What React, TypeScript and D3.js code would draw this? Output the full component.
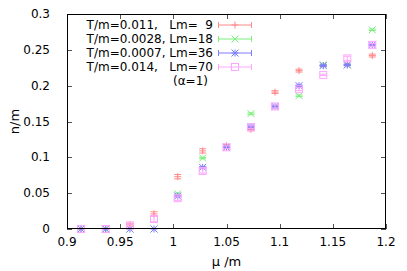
import React from 'react'
import * as d3 from 'd3'

// chemical potential (x) shared by all runs
const muValues = [0.9132, 0.9364, 0.9592, 0.9818, 1.0041, 1.0276, 1.05, 1.073, 1.0956, 1.1182, 1.141, 1.1636, 1.1871]

const seriesLabels = ['T/m=0.011,   Lm=  9', 'T/m=0.0028, Lm=18', 'T/m=0.0007, Lm=36', 'T/m=0.014,   Lm=70']
const seriesColors = ['#ff8a8a', '#7aee7a', '#7c7cff', '#ffa6ff']
const seriesMarkers = ['plus', 'cross', 'star', 'square']

const nLm9 = [0, 0, 0.006, 0.021, 0.073, 0.109, 0.116, 0.139, 0.191, 0.221, 0.228, 0.229, 0.242]
const nLm18 = [0, 0, 0, 0, 0.049, 0.099, 0.114, 0.161, 0.171, 0.186, 0.229, 0.229, 0.278]
const nLm36 = [0, 0, 0, 0, 0.046, 0.086, 0.114, 0.143, 0.171, 0.2, 0.228, 0.229, 0.257]
const nLm70 = [0, 0, 0.005, 0.014, 0.043, 0.081, 0.114, 0.142, 0.171, 0.195, 0.215, 0.238, 0.257]
const errLm9 = [0, 0, 0.002, 0.003, 0.003, 0.003, 0.002, 0.002, 0.002, 0.002, 0.001, 0.001, 0.002]
const errLm70 = [0, 0, 0.002, 0.004, 0.003, 0.003, 0.002, 0.002, 0.002, 0.002, 0.001, 0.003, 0.002]
const errSmall = [0, 0, 0, 0, 0.001, 0.001, 0.001, 0.001, 0.001, 0.001, 0.001, 0.001, 0.001]

const seriesValues = [nLm9, nLm18, nLm36, nLm70]
const seriesErrors = [errLm9, errSmall, errSmall, errLm70]

const xTicks = [0.9, 0.95, 1, 1.05, 1.1, 1.15, 1.2]
const yTicks = [0, 0.05, 0.1, 0.15, 0.2, 0.25, 0.3]
const noteText = '(α=1)'

const W = 407
const H = 271
const margin = { top: 14, right: 21, bottom: 42, left: 67 }
const font = 'DejaVu Sans, sans-serif'

const Marker = ({ kind, x, y, color }: { kind: string; x: number; y: number; color: string }) => {
  const s = 3.5
  const sw = 1
  if (kind === 'plus')
    return <path d={`M${x - s},${y}H${x + s}M${x},${y - s}V${y + s}`} stroke={color} strokeWidth={sw} fill="none" />
  if (kind === 'cross')
    return <path d={`M${x - s},${y - s}L${x + s},${y + s}M${x - s},${y + s}L${x + s},${y - s}`} stroke={color} strokeWidth={sw} fill="none" />
  if (kind === 'star')
    return (
      <path
        d={`M${x - s},${y - s}L${x + s},${y + s}M${x - s},${y + s}L${x + s},${y - s}M${x - s},${y}H${x + s}M${x},${y - s}V${y + s}`}
        stroke={color}
        strokeWidth={sw}
        fill="none"
      />
    )
  return <rect x={x - s} y={y - s} width={2 * s} height={2 * s} stroke={color} strokeWidth={sw} fill="none" />
}

const App = () => {
  const xScale = d3.scaleLinear().domain([0.9, 1.2]).range([margin.left, W - margin.right])
  const yScale = d3.scaleLinear().domain([0, 0.3]).range([H - margin.bottom, margin.top])
  const x0 = xScale.range()[0]
  const x1 = xScale.range()[1]
  const y0 = yScale.range()[0]
  const y1 = yScale.range()[1]
  const tickLen = 5
  const cap = 3.5

  return (
    <svg width={W} height={H} style={{ position: 'absolute', left: 0, top: 0, background: '#fff' }} fontFamily={font}>
      {/* ticks, mirrored on all four sides */}
      <g stroke="#555" strokeWidth={1}>
        {xTicks.map((t) => {
          const px = Math.round(xScale(t)) + 0.5
          return (
            <g key={'xt' + t}>
              <line x1={px} x2={px} y1={y0} y2={y0 - tickLen} />
              <line x1={px} x2={px} y1={y1} y2={y1 + tickLen} />
            </g>
          )
        })}
        {yTicks.map((t) => {
          const py = Math.round(yScale(t)) + 0.5
          return (
            <g key={'yt' + t}>
              <line x1={x0} x2={x0 + tickLen} y1={py} y2={py} />
              <line x1={x1} x2={x1 - tickLen} y1={py} y2={py} />
            </g>
          )
        })}
      </g>
      <g fontSize={12} fill="#000">
        {xTicks.map((t) => (
          <text key={'xl' + t} x={xScale(t)} y={y0 + 17} textAnchor="middle">
            {d3.format('')(t)}
          </text>
        ))}
        {yTicks.map((t) => (
          <text key={'yl' + t} x={x0 - 17} y={yScale(t) + 4} textAnchor="end">
            {d3.format('')(t)}
          </text>
        ))}
      </g>
      <text x={(x0 + x1) / 2} y={H - 5} textAnchor="middle" fontSize={13}>
        μ /m
      </text>
      <text transform={`translate(19,${(y0 + y1) / 2}) rotate(-90)`} textAnchor="middle" fontSize={13}>
        n/m
      </text>

      {/* data with y error bars */}
      {seriesValues.map((vals, si) => (
        <g key={'s' + si}>
          {vals.map((v, i) => {
            const px = xScale(muValues[i])
            const e = seriesErrors[si][i]
            const ya = yScale(v - e)
            const yb = yScale(v + e)
            return (
              <g key={i}>
                {e > 0 && (
                  <path
                    d={`M${px},${ya}V${yb}M${px - cap},${ya}H${px + cap}M${px - cap},${yb}H${px + cap}`}
                    stroke={seriesColors[si]}
                    strokeWidth={1}
                    fill="none"
                  />
                )}
                <Marker kind={seriesMarkers[si]} x={px} y={yScale(v)} color={seriesColors[si]} />
              </g>
            )
          })}
        </g>
      ))}

      {/* key */}
      {seriesLabels.map((lab, i) => {
        const ly = 25 + i * 14
        return (
          <g key={'k' + i}>
            <text x={213} y={ly + 4} textAnchor="end" fontSize={12} style={{ whiteSpace: 'pre' }}>
              {lab}
            </text>
            <path
              d={`M218,${ly}H252M218.5,${ly - 3}V${ly + 3}M251.5,${ly - 3}V${ly + 3}`}
              stroke={seriesColors[i]}
              strokeWidth={1}
              fill="none"
            />
            <Marker kind={seriesMarkers[i]} x={235} y={ly} color={seriesColors[i]} />
          </g>
        )
      })}
      <text x={208} y={25 + 4 * 14 + 4} textAnchor="end" fontSize={12}>
        {noteText}
      </text>

      <rect x={x0 + 0.5} y={y1 + 0.5} width={x1 - x0 - 1} height={y0 - y1 - 1} fill="none" stroke="#000" strokeWidth={1} />
    </svg>
  )
}

export default App
